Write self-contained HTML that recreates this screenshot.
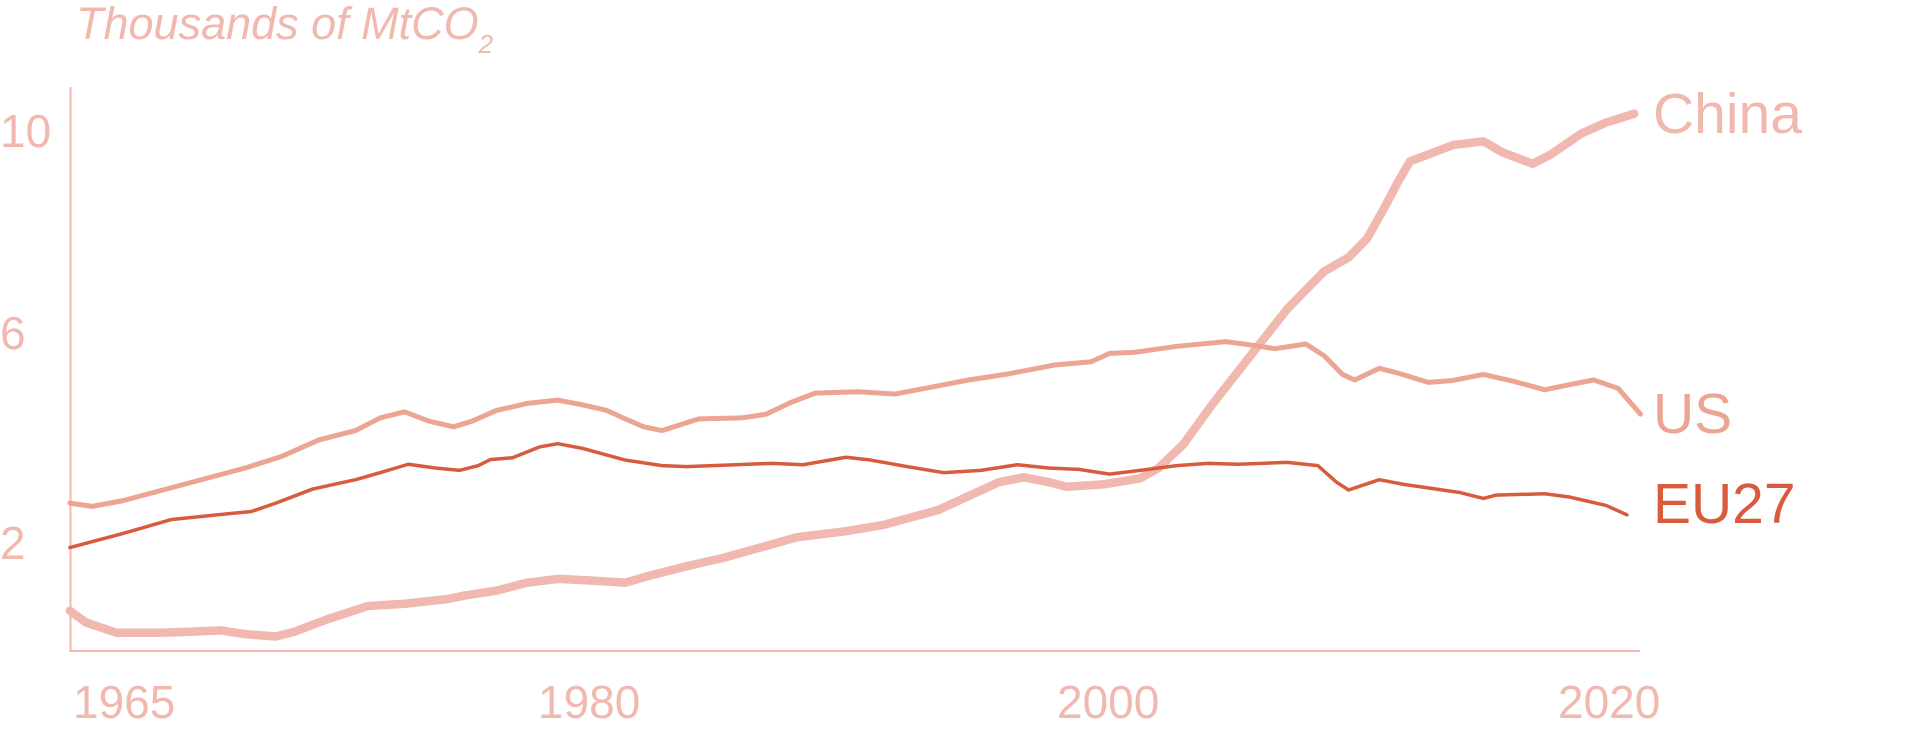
<!DOCTYPE html>
<html><head><meta charset="utf-8"><style>
html,body{margin:0;padding:0;background:#fff;}
svg{display:block;}
text{font-family:"Liberation Sans",sans-serif;}
</style></head><body>
<svg width="1920" height="733" viewBox="0 0 1920 733" xmlns="http://www.w3.org/2000/svg">
<text x="76" y="39" font-size="45" font-style="italic" fill="#f0b8ae">Thousands of MtCO<tspan font-size="26" dy="14">2</tspan></text>
<line x1="70.5" y1="87" x2="70.5" y2="652" stroke="#f0b8ae" stroke-width="2"/>
<line x1="70" y1="651" x2="1640" y2="651" stroke="#f0b8ae" stroke-width="2"/>
<g font-size="46" fill="#f0b8ae">
<text x="0" y="147">10</text>
<text x="0" y="349">6</text>
<text x="0" y="559">2</text>
<text x="73" y="718">1965</text>
<text x="538" y="718">1980</text>
<text x="1057" y="718">2000</text>
<text x="1558" y="718">2020</text>
</g>
<text x="1653" y="133" font-size="57" fill="#f0b8ae">China</text>
<text x="1653" y="433" font-size="57" fill="#eba592">US</text>
<text x="1653" y="523" font-size="57" fill="#d95b3e">EU27</text>
<g transform="scale(1.226,0.468)" fill="none" stroke-linejoin="round" stroke-linecap="round">
<polyline vector-effect="non-scaling-stroke" stroke="#f0b8ae" stroke-width="8.5" points="57,1305 70,1330 95,1352 130,1352 155,1350 180,1347 200,1355 225,1360 240,1350 265,1325 300,1295 330,1290 365,1280 380,1272 405,1262 430,1245 455,1237 480,1240 510,1245 530,1230 560,1210 590,1192 620,1170 650,1148 690,1135 720,1122 765,1090 790,1060 815,1030 835,1020 855,1030 870,1040 900,1035 930,1022 945,1000 965,950 990,860 1020,760 1050,660 1080,580 1100,550 1115,510 1130,440 1140,390 1150,345 1165,330 1185,310 1210,302 1225,325 1250,350 1265,330 1290,285 1310,262 1333,243"/>
<polyline vector-effect="non-scaling-stroke" stroke="#eba592" stroke-width="5" points="57,1075 75,1082 100,1070 150,1035 200,1000 230,975 260,940 290,920 310,893 330,880 350,900 370,912 385,900 405,877 430,862 455,855 475,865 495,877 510,895 525,912 540,920 570,895 605,893 625,885 645,860 665,840 700,837 730,842 760,827 790,812 820,800 860,780 890,773 905,755 925,753 960,740 1000,730 1020,737 1040,745 1065,735 1080,760 1095,800 1105,812 1125,787 1140,797 1165,817 1185,813 1210,800 1235,815 1260,833 1280,822 1300,812 1320,830 1338,885"/>
<polyline vector-effect="non-scaling-stroke" stroke="#d95b3e" stroke-width="3.5" points="57,1170 100,1140 140,1110 185,1098 205,1093 225,1075 255,1045 290,1025 310,1010 333,992 355,1000 375,1005 390,995 400,982 418,978 440,955 455,948 475,958 510,983 540,995 560,997 600,993 630,990 655,993 690,977 710,983 740,997 770,1010 800,1005 830,993 855,1000 880,1003 905,1013 930,1005 960,995 985,990 1010,992 1050,988 1075,995 1090,1030 1100,1047 1125,1025 1145,1035 1190,1052 1210,1065 1220,1058 1260,1055 1280,1062 1310,1080 1327,1100"/>
</g>
</svg>
</body></html>
